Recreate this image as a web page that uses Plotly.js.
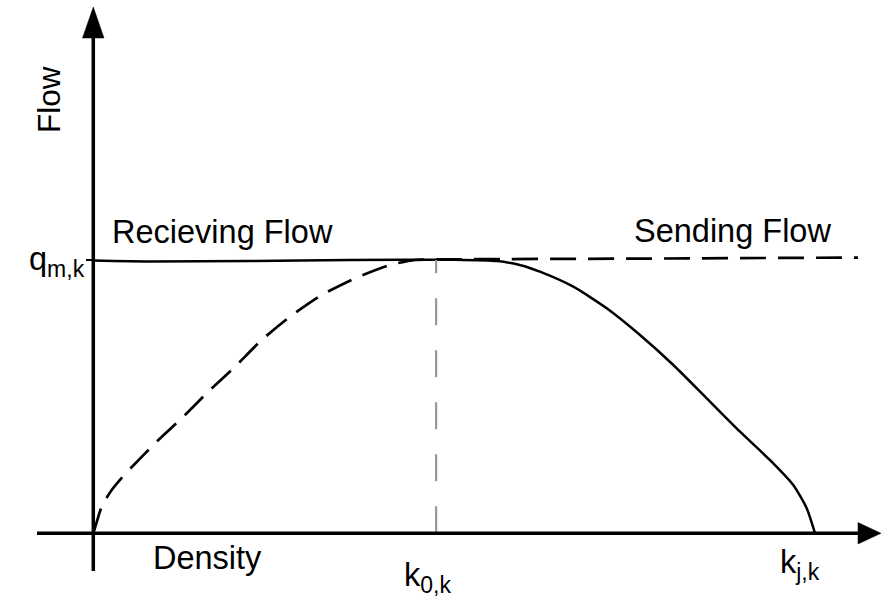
<!DOCTYPE html>
<html>
<head>
<meta charset="utf-8">
<script src="https://cdn.plot.ly/plotly-3.0.1.min.js"></script>
<style>html,body{margin:0;padding:0;background:#fff;}#chart{width:881px;height:601px;}</style>
</head>
<body>
<div id="chart"></div>
<script>
// Density normalised so that k_j,k = 1; flow normalised so that q_m,k = 1
const k0 = 0.475;
const kj = 1.0;
const qm = 1.0;

// Dashed curve (rising branch then flat capacity line)
const dashedDensity = [0, 0.0042, 0.0103, 0.0180, 0.0273, 0.0388, 0.0504, 0.0855, 0.1225, 0.1593, 0.1963, 0.2333, 0.2726, 0.3165, 0.3626, 0.4111, 0.4458, 0.4749, 0.75, 1.0596];
const dashedFlow    = [0, 0.0366, 0.0878, 0.1281, 0.1647, 0.2012, 0.2342, 0.3293, 0.4208, 0.5181, 0.6096, 0.7073, 0.7925, 0.8719, 0.9330, 0.9817, 1.0, 1.002, 1.005, 1.009];

// Solid curve (flat capacity line then falling branch)
const solidDensity = [0, 0.0786, 0.217, 0.3557, 0.5, 0.5598, 0.5935, 0.6188, 0.6651, 0.7114, 0.7575, 0.8037, 0.8499, 0.8961, 0.9422, 0.9699, 0.9885, 1.0];
const solidFlow    = [0.998, 0.9945, 0.9963, 1.0, 1.001, 0.996, 0.980, 0.9572, 0.9023, 0.8233, 0.7256, 0.6158, 0.4940, 0.3718, 0.2561, 0.1767, 0.0915, 0];

const sub = s => `<sub><span style="font-size:23px">${s}</span></sub>`;
const labels = {
  yTitle: "Flow",
  xTitle: "Density",
  receiving: "Recieving Flow",
  sending: "Sending Flow",
  qm: "q" + sub("m,k"),
  k0: "k" + sub("0,k"),
  kj: "k" + sub("j,k")
};

// pixel helpers for decoration placement
const W = 881, H = 601;
const ox = 93.3, oy = 533.3, sx = 721.7, sy = 273.3;
const dx = p => (p - ox) / sx;
const dy = p => (oy - p) / sy;
const px = p => p / W;
const py = p => 1 - p / H;

const font = "Liberation Sans, Arial, sans-serif";

const traces = [
  {x: dashedDensity, y: dashedFlow, mode: "lines", line: {color: "#000", width: 2.7, dash: "26px,12px", shape: "spline", smoothing: 0.6}, hoverinfo: "skip"},
  {x: solidDensity, y: solidFlow, mode: "lines", line: {color: "#000", width: 2.5, shape: "spline", smoothing: 0.6}, hoverinfo: "skip"}
];

const shapes = [
  // k0 guide
  {type: "line", xref: "x", yref: "y", x0: k0, x1: k0, y0: 0, y1: qm, line: {color: "#999", width: 2.2, dash: "27px,25px"}},
  // x axis
  {type: "line", xref: "x", yref: "y", x0: dx(37), x1: dx(860), y0: 0, y1: 0, line: {color: "#000", width: 3.5}},
  // y axis
  {type: "line", xref: "x", yref: "y", x0: 0, x1: 0, y0: dy(571), y1: dy(36), line: {color: "#000", width: 3.5}},
  // q tick
  {type: "line", xref: "x", yref: "y", x0: dx(86), x1: 0, y0: qm, y1: qm, line: {color: "#000", width: 2}},
  // arrowheads
  {type: "path", xref: "x", yref: "y", path: `M ${dx(82.5)} ${dy(38)} L ${dx(93.3)} ${dy(7)} L ${dx(104)} ${dy(38)} Z`, fillcolor: "#000", line: {color: "#000", width: 0.5}},
  {type: "path", xref: "x", yref: "y", path: `M ${dx(858)} ${dy(522.5)} L ${dx(881)} ${dy(533.3)} L ${dx(858)} ${dy(544)} Z`, fillcolor: "#000", line: {color: "#000", width: 0.5}}
];

const ann = (text, x, y, xa, ya, extra) => Object.assign({text, xref: "paper", yref: "paper", x: px(x), y: py(y), xanchor: xa, yanchor: ya, showarrow: false, font: {family: font, size: 32.5, color: "#000"}}, extra || {});

const annotations = [
  ann(labels.yTitle, 49, 100, "center", "middle", {textangle: -90, font: {family: font, size: 31.5, color: "#000"}}),
  ann(labels.xTitle, 151, 558, "left", "middle"),
  ann(labels.receiving, 110, 232, "left", "middle"),
  ann(labels.sending, 833, 231, "right", "middle"),
  ann(labels.qm, 87, 261, "right", "middle"),
  ann(labels.k0, 402, 577, "left", "middle"),
  ann(labels.kj, 778, 564, "left", "middle")
];

const layout = {
  width: W, height: H,
  margin: {l: 0, r: 0, t: 0, b: 0},
  paper_bgcolor: "#fff", plot_bgcolor: "#fff",
  showlegend: false,
  xaxis: {range: [dx(0), dx(W)], visible: false, fixedrange: true},
  yaxis: {range: [dy(H), dy(0)], visible: false, fixedrange: true},
  shapes, annotations,
  hovermode: false
};

Plotly.newPlot("chart", traces, layout, {staticPlot: true, displayModeBar: false});
</script>
</body>
</html>
